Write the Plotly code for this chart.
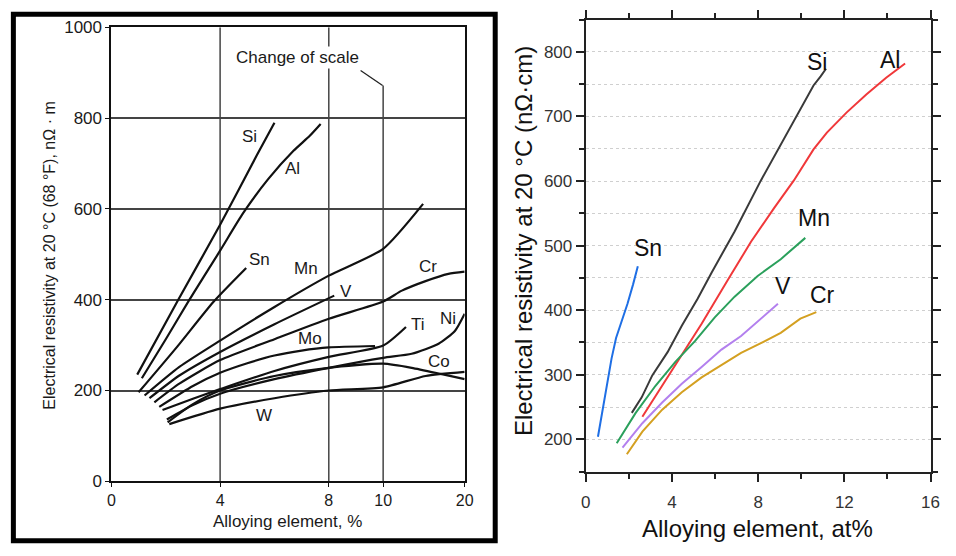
import plotly.graph_objects as go

# ---------------- Left panel data (x in %, resistivity in nOhm*m) ----------------
left_tick_vals = [0, 4, 8, 10, 20]
left_tick_text = ["0", "4", "8", "10", "20"]
left_y_ticks = [0, 200, 400, 600, 800, 1000]

si_x = [0.95, 2.46, 4.0, 5.35, 6.0]
si_y = [235, 400, 565, 718, 790]
al_x = [1.12, 2.0, 2.85, 4.0, 4.84, 5.76, 6.7, 7.3, 7.7]
al_y = [227, 313, 398, 508, 590, 665, 728, 761, 787]
sn_x = [1.0, 2.4, 3.75, 4.96]
sn_y = [196, 295, 395, 470]
mn_x = [1.22, 2.5, 4.0, 6.0, 8.0, 10.0, 14.9]
mn_y = [189, 252, 310, 384, 453, 512, 611]
v_x = [1.4, 2.5, 4.0, 6.0, 8.2]
v_y = [183, 233, 285, 346, 409]
cr_x = [1.58, 2.5, 4.0, 6.0, 8.0, 10.0, 12.3, 15.2, 18.0, 20.0]
cr_y = [174, 215, 267, 313, 358, 396, 420, 441, 457, 462]
mo_x = [1.76, 3.0, 4.0, 5.0, 6.0, 7.0, 8.0, 9.7]
mo_y = [164, 210, 239, 260, 277, 288, 295, 298]
ti_x = [1.88, 3.0, 4.0, 6.0, 8.0, 10.0, 12.8]
ti_y = [157, 182, 203, 243, 274, 299, 340]
ni_x = [2.04, 3.0, 4.0, 6.0, 8.0, 10.0, 13.5, 16.8, 18.8, 20.0]
ni_y = [136, 168, 193, 225, 250, 272, 281, 303, 331, 369]
co_x = [2.07, 3.0, 4.0, 6.0, 8.0, 10.0, 13.5, 17.2, 20.0]
co_y = [130, 170, 200, 232, 250, 259, 250, 236, 225]
w_x = [2.13, 4.0, 6.0, 8.0, 10.0, 15.2, 20.0]
w_y = [126, 160, 183, 200, 207, 232, 241]

left_series = [("Si", si_x, si_y), ("Al", al_x, al_y), ("Sn", sn_x, sn_y),
               ("Mn", mn_x, mn_y), ("V", v_x, v_y), ("Cr", cr_x, cr_y),
               ("Mo", mo_x, mo_y), ("Ti", ti_x, ti_y), ("Ni", ni_x, ni_y),
               ("Co", co_x, co_y), ("W", w_x, w_y)]
left_labels = {"Si": (5.1, 760), "Al": (6.68, 690), "Sn": (5.45, 488), "Mn": (7.16, 468),
               "V": (8.62, 418), "Cr": (15.5, 474), "Ti": (14.3, 346), "Ni": (17.9, 358),
               "Mo": (7.3, 314), "Co": (16.9, 263), "W": (5.6, 146)}

# ---------------- Right panel data (x in at%, resistivity in nOhm*cm) ----------------
r_sn_x = [0.57, 0.8, 1.02, 1.2, 1.41, 1.7, 1.94, 2.2, 2.42]
r_sn_y = [204, 248, 289, 325, 357, 385, 410, 440, 468]
r_si_x = [2.14, 2.6, 3.09, 3.8, 4.46, 5.2, 5.84, 6.91, 8.13, 9.2, 9.96, 10.57, 10.9, 11.15]
r_si_y = [241, 265, 299, 335, 376, 418, 458, 522, 601, 665, 712, 748, 762, 774]
r_al_x = [2.63, 3.55, 4.46, 5.38, 6.6, 7.67, 8.74, 9.66, 10.57, 11.19, 12.1, 13.02, 13.94, 14.82]
r_al_y = [235, 283, 331, 379, 447, 506, 558, 601, 649, 675, 706, 734, 760, 782]
r_mn_x = [1.44, 2.32, 3.24, 4.16, 5.07, 5.99, 6.91, 7.98, 9.05, 10.19]
r_mn_y = [194, 241, 283, 320, 352, 389, 421, 453, 479, 512]
r_v_x = [1.71, 2.63, 3.55, 4.46, 5.38, 6.3, 7.21, 8.13, 8.92]
r_v_y = [187, 225, 257, 286, 312, 339, 360, 387, 410]
r_cr_x = [1.91, 2.63, 3.55, 4.46, 5.38, 6.3, 7.21, 8.13, 9.05, 9.96, 10.7]
r_cr_y = [177, 212, 246, 273, 296, 315, 334, 349, 365, 387, 397]

right_series = [("Sn", r_sn_x, r_sn_y, "#1f6fe5"), ("Si", r_si_x, r_si_y, "#3a3a3a"),
                ("Al", r_al_x, r_al_y, "#f0383a"), ("Mn", r_mn_x, r_mn_y, "#2ba05c"),
                ("V", r_v_x, r_v_y, "#b380ee"), ("Cr", r_cr_x, r_cr_y, "#d4a021")]
right_labels = {"Sn": (2.9, 496), "Si": (10.75, 784), "Al": (14.1, 787), "Mn": (10.6, 543),
                "V": (9.17, 438), "Cr": (11.0, 423)}


def u(x):
    """Left-panel broken x scale: linear to 10 %, then compressed (change of scale)."""
    return x if x <= 10 else 10 + (x - 10) * 0.3


W, H = 956, 556
fig = go.Figure()

for name, xs, ys in left_series:
    fig.add_trace(go.Scatter(x=[u(v) for v in xs], y=ys, mode="lines",
                             line=dict(color="#111111", width=2.2, shape="spline", smoothing=0.6),
                             xaxis="x", yaxis="y", showlegend=False, hoverinfo="skip"))

for name, xs, ys, col in right_series:
    fig.add_trace(go.Scatter(x=xs, y=ys, mode="lines",
                             line=dict(color=col, width=2),
                             xaxis="x2", yaxis="y2", showlegend=False, hoverinfo="skip"))

FAM = "Liberation Sans, Arial, sans-serif"
lfont = dict(family=FAM, size=17, color="#1a1a1a")
ltick = dict(family=FAM, size=16, color="#1a1a1a")
rfont = dict(family=FAM, size=17, color="#333333")

annotations = []
for name, (lx, ly) in left_labels.items():
    annotations.append(dict(x=u(lx), y=ly, xref="x", yref="y", text=name, showarrow=False,
                            xanchor="center", yanchor="middle", font=lfont))
for name, (lx, ly) in right_labels.items():
    annotations.append(dict(x=lx, y=ly, xref="x2", yref="y2", text=name, showarrow=False,
                            xanchor="center", yanchor="middle",
                            font=dict(family=FAM, size=23, color="#111111")))
annotations.append(dict(x=u(6.85), y=934, xref="x", yref="y", text="Change of scale",
                        showarrow=False, xanchor="center", yanchor="middle",
                        font=lfont, bgcolor="white"))
# axis titles
annotations += [
    dict(x=45 / W, y=1 - 255 / H, xref="paper", yref="paper", textangle=-90, showarrow=False,
         xanchor="center", yanchor="middle",
         text="Electrical resistivity at 20 °C (68 °F), nΩ · m",
         font=dict(family=FAM, size=16, color="#1a1a1a")),
    dict(x=287 / W, y=1 - 531 / H, xref="paper", yref="paper", showarrow=False,
         xanchor="center", yanchor="middle",
         text="Alloying element, %", font=lfont),
    dict(x=527 / W, y=1 - 240 / H, xref="paper", yref="paper", textangle=-90, showarrow=False,
         xanchor="center", yanchor="middle",
         text="Electrical resistivity at 20 °C (nΩ·cm)",
         font=dict(family=FAM, size=24, color="#111111")),
    dict(x=764 / W, y=1 - 538 / H, xref="paper", yref="paper", showarrow=False,
         xanchor="center", yanchor="middle",
         text="Alloying element, at%",
         font=dict(family=FAM, size=24, color="#111111")),
]

shapes = [
    # black frame around left figure
    dict(type="rect", xref="paper", yref="paper", x0=8.5 / W, x1=497.5 / W,
         y0=1 - 550.5 / H, y1=1 - 5.5 / H, line=dict(color="black", width=5)),
    # vertical grid lines of the left panel
    dict(type="line", xref="x", yref="y", x0=4, x1=4, y0=0, y1=1000,
         line=dict(color="#444444", width=1.5), layer="below"),
    dict(type="line", xref="x", yref="y", x0=8, x1=8, y0=0, y1=1000,
         line=dict(color="#444444", width=1.5), layer="below"),
    dict(type="line", xref="x", yref="y", x0=10, x1=10, y0=0, y1=872,
         line=dict(color="#444444", width=1.5), layer="below"),
    # change-of-scale leader
    dict(type="line", xref="x", yref="y", x0=9.17, x1=9.98, y0=905, y1=872,
         line=dict(color="#222222", width=1.3)),
]

fig.update_layout(
    width=W, height=H, margin=dict(l=0, r=0, t=0, b=0),
    paper_bgcolor="white", plot_bgcolor="white",
    xaxis=dict(domain=[108 / W, 466.5 / W], range=[0, 13],
               tickvals=[u(v) for v in left_tick_vals], ticktext=left_tick_text,
               showgrid=False, zeroline=False, showline=True, linecolor="#111111",
               linewidth=2, mirror=True, ticks="outside", ticklen=4, tickcolor="#111111",
               tickfont=ltick, anchor="y"),
    yaxis=dict(domain=[1 - 489 / H, 1 - 19 / H], range=[0, 1000], tickvals=left_y_ticks,
               showgrid=True, gridcolor="#444444", gridwidth=1.5, zeroline=False,
               showline=True, linecolor="#111111", linewidth=2, mirror=True,
               ticks="outside", ticklen=4, tickcolor="#111111", tickfont=lfont, anchor="x"),
    xaxis2=dict(domain=[589.3 / W, 939.3 / W], range=[0, 16], dtick=4, tick0=0,
                showgrid=False, zeroline=False, showline=True, linecolor="#222222",
                linewidth=2, mirror="ticks", ticks="outside", ticklen=8, tickwidth=2,
                tickcolor="#222222", tickfont=rfont, ticklabelstandoff=6,
                minor=dict(dtick=2, ticks="outside", ticklen=5, tickwidth=1.5,
                           tickcolor="#222222"),
                anchor="y2"),
    yaxis2=dict(domain=[1 - 479 / H, 1 - 11 / H], range=[150, 850], dtick=100, tick0=0,
                showgrid=True, gridcolor="#cfcfcf", gridwidth=1, griddash="dot",
                zeroline=False, showline=True, linecolor="#222222", linewidth=2,
                mirror="ticks", ticks="outside", ticklen=8, tickwidth=2,
                tickcolor="#222222", tickfont=rfont,
                minor=dict(dtick=50, ticks="outside", ticklen=5, tickwidth=1.5,
                           tickcolor="#222222", showgrid=True, gridcolor="#cfcfcf",
                           griddash="dot", gridwidth=1),
                anchor="x2"),
    annotations=annotations, shapes=shapes,
)

fig.write_html("out.html")
